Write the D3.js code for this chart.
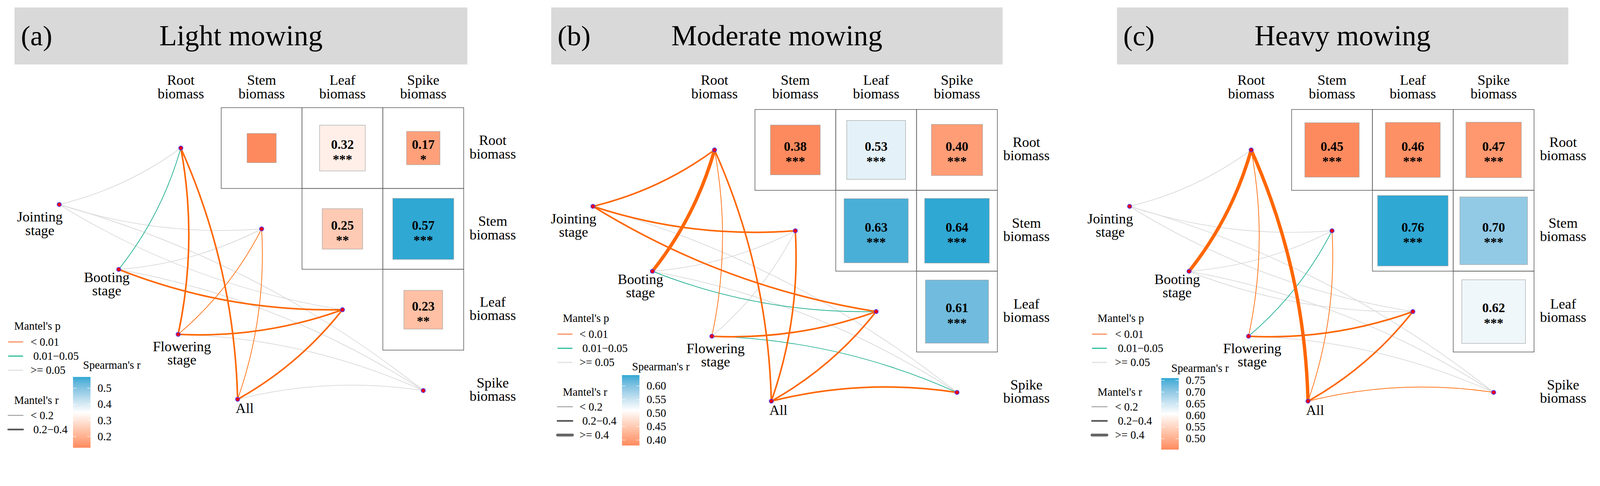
<!DOCTYPE html>
<html>
<head>
<meta charset="utf-8">
<script src="https://cdn.jsdelivr.net/npm/d3@7"></script>
<style>
  html, body { margin: 0; padding: 0; background: #ffffff; overflow: hidden; }
  svg { display: block; width: 100vw; height: auto; }
  svg text { font-family: "Liberation Serif", "Times New Roman", "DejaVu Serif", serif; fill: #000; }
</style>
</head>
<body>
<svg id="chart" viewBox="0 0 4296 1244" preserveAspectRatio="xMinYMin meet" font-family="Liberation Serif, Times New Roman, serif"></svg>
<script>
// ---------------- DATA ----------------
const panelTags = ["(a)", "(b)", "(c)"];
const panelTitles = ["Light mowing", "Moderate mowing", "Heavy mowing"];
const envVars = ["Root biomass", "Stem biomass", "Leaf biomass", "Spike biomass"];
const stages = ["Jointing stage", "Booting stage", "Flowering stage", "All"];

// upper-triangle pairs (row, column) of the Spearman matrix
const pairRows = ["Root biomass", "Root biomass", "Root biomass", "Stem biomass", "Stem biomass", "Leaf biomass"];
const pairCols = ["Stem biomass", "Leaf biomass", "Spike biomass", "Leaf biomass", "Spike biomass", "Spike biomass"];

const spearmanLight    = [0.13, 0.32, 0.17, 0.25, 0.57, 0.23];
const signifLight      = ["", "***", "*", "**", "***", "**"];
const spearmanModerate = [0.38, 0.53, 0.40, 0.63, 0.64, 0.61];
const signifModerate   = ["***", "***", "***", "***", "***", "***"];
const spearmanHeavy    = [0.453, 0.46, 0.47, 0.76, 0.70, 0.62];
const signifHeavy      = ["***", "***", "***", "***", "***", "***"];

// Mantel test classes, rows = stages, columns = envVars
// p class: 0 "< 0.01", 1 "0.01-0.05", 2 ">= 0.05"
// r class: 0 "< 0.2", 1 "0.2-0.4", 2 ">= 0.4"
const mantelPLight = [[2, 2, 2, 2], [1, 2, 0, 2], [0, 0, 0, 2], [0, 0, 0, 2]];
const mantelRLight = [[0, 0, 0, 0], [0, 0, 1, 0], [1, 0, 1, 0], [1, 0, 1, 0]];
const mantelPModerate = [[0, 0, 0, 2], [0, 2, 1, 2], [0, 2, 0, 1], [0, 0, 0, 0]];
const mantelRModerate = [[1, 1, 1, 0], [2, 0, 0, 0], [0, 0, 1, 0], [1, 1, 1, 1]];
const mantelPHeavy = [[2, 2, 2, 2], [0, 2, 2, 2], [0, 1, 0, 2], [0, 0, 0, 0]];
const mantelRHeavy = [[0, 0, 0, 0], [2, 0, 0, 0], [0, 0, 1, 0], [2, 0, 1, 0]];

const pLabels = ["< 0.01", " 0.01\u22120.05", ">= 0.05"];
const rLabels = ["< 0.2", " 0.2\u22120.4", ">= 0.4"];

// ---------------- STYLE / LAYOUT ----------------
const FONT = "Liberation Serif, Times New Roman, serif";
const cell = 217;
const linkColors = ["#FF6600", "#14AB8B", "#D8D8D8"];
const keyColors = ["#F8915F", "#2DBE9B", "#E2E2E2"];
const linkWidths = [1.8, 4.2, 9];
const rKeyColors = ["#9A9A9A", "#555555", "#666666"];
const rKeyWidths = [2.5, 4.5, 7.5];
const lowCol = "#FD8A5E", highCol = "#2FA8D4";
const curvSign = [1, 1, 1, -1];          // per environmental variable
const stageLabelDx = [-52, -32, 10, 19];
const stageLabelDy = [46, 34, 45, 37];

const layouts = [
  { gx: 377,  gy: 289, box: [39, 20, 1255, 173],   hdx: 0,
    leg: { kx: 22, lx: 82, tx: 38, py: 875, ry: 1075, step: 38 },
    cb: { x: 196, y0: 1012, y1: 1202, ty: 980 } },
  { gx: 1810, gy: 294, box: [1480, 20, 2692, 173], hdx: 0,
    leg: { kx: 1497, lx: 1556, tx: 1511, py: 854, ry: 1052, step: 38 },
    cb: { x: 1670, y0: 1007, y1: 1196, ty: 984 } },
  { gx: 3251, gy: 294, box: [2999, 20, 4211, 173], hdx: 0,
    leg: { kx: 2932, lx: 2994, tx: 2947, py: 854, ry: 1052, step: 38 },
    cb: { x: 3118, y0: 1015, y1: 1207, ty: 988 } }
];

const panels = [
  { tag: panelTags[0], title: panelTitles[0], r: spearmanLight, sig: signifLight, mp: mantelPLight, mr: mantelRLight },
  { tag: panelTags[1], title: panelTitles[1], r: spearmanModerate, sig: signifModerate, mp: mantelPModerate, mr: mantelRModerate },
  { tag: panelTags[2], title: panelTitles[2], r: spearmanHeavy, sig: signifHeavy, mp: mantelPHeavy, mr: mantelRHeavy }
];

const svg = d3.select("#chart");
svg.append("rect").attr("width", 4296).attr("height", 1244).attr("fill", "#fff");
const defs = svg.append("defs");

function txt(sel, s) {
  return sel.append("text").text(s).attr("font-family", FONT);
}

panels.forEach((P, pi) => {
  const L = layouts[pi];
  const g = svg.append("g").attr("font-family", FONT);

  // ---- title strip ----
  g.append("rect")
    .attr("x", L.box[0]).attr("y", L.box[1])
    .attr("width", L.box[2] - L.box[0]).attr("height", L.box[3] - L.box[1])
    .attr("fill", "#D9D9D9");
  txt(g, P.tag)
    .attr("x", L.box[0] + 17).attr("y", L.box[1] + 102)
    .attr("font-size", 76);
  txt(g, P.title)
    .attr("x", (L.box[0] + L.box[2]) / 2).attr("y", L.box[1] + 102)
    .attr("text-anchor", "middle").attr("font-size", 77);

  // ---- scales ----
  const x = d3.scaleBand().domain(envVars).range([L.gx, L.gx + 4 * cell]);
  const y = d3.scaleBand().domain(envVars).range([L.gy, L.gy + 4 * cell]);
  const cx = v => x(v) + x.bandwidth() / 2;
  const cy = v => y(v) + y.bandwidth() / 2;
  const side = d3.scaleSqrt().domain([0, 1]).range([0, x.bandwidth()]);
  const ext = d3.extent(P.r);
  const color = d3.scaleLinear()
    .domain([ext[0], (ext[0] + ext[1]) / 2, ext[1]])
    .range([lowCol, "#ffffff", highCol])
    .interpolate(d3.interpolateLab);
  const sx = d3.scalePoint().domain(stages).range([L.gx - 218, L.gx + 261]);
  const sy = d3.scalePoint().domain(stages).range([L.gy + 260, L.gy + 783]);

  // ---- column headers ----
  envVars.forEach(v => {
    const words = v.split(" ");
    const t = g.append("text").attr("font-family", FONT).attr("text-anchor", "middle").attr("font-size", 38);
    words.forEach((w, k) => t.append("tspan").attr("x", cx(v) + L.hdx).attr("y", 228 + k * 36).text(w));
  });
  // ---- row labels (right) ----
  envVars.forEach(v => {
    const words = v.split(" ");
    const t = g.append("text").attr("font-family", FONT).attr("text-anchor", "middle").attr("font-size", 38);
    words.forEach((w, k) => t.append("tspan").attr("x", L.gx + 4 * cell + 78).attr("y", cy(v) - 8 + k * 36).text(w));
  });

  // ---- matrix cells ----
  const cells = P.r.map((r, k) => ({ row: pairRows[k], col: pairCols[k], r: r, sig: P.sig[k] }));
  g.selectAll(".cellbox").data(cells).enter().append("rect")
    .attr("x", d => x(d.col)).attr("y", d => y(d.row))
    .attr("width", x.bandwidth()).attr("height", y.bandwidth())
    .attr("fill", "none").attr("stroke", "#5a5a5a").attr("stroke-width", 1.6);
  g.selectAll(".sq").data(cells).enter().append("rect")
    .attr("x", d => cx(d.col) - side(Math.abs(d.r)) / 2)
    .attr("y", d => cy(d.row) - side(Math.abs(d.r)) / 2)
    .attr("width", d => side(Math.abs(d.r)))
    .attr("height", d => side(Math.abs(d.r)))
    .attr("fill", d => color(d.r))
    .attr("stroke", "#A0A0A0").attr("stroke-width", 1.2);
  cells.filter(d => d.sig !== "").forEach(d => {
    txt(g, d.r.toFixed(2))
      .attr("x", cx(d.col)).attr("y", cy(d.row) + 2)
      .attr("text-anchor", "middle").attr("font-size", 35).attr("font-weight", "bold");
    txt(g, d.sig)
      .attr("x", cx(d.col)).attr("y", cy(d.row) + 42)
      .attr("text-anchor", "middle").attr("font-size", 35).attr("font-weight", "bold");
  });

  // ---- links ----
  const links = [];
  stages.forEach((s, i) => envVars.forEach((e, j) => {
    links.push({ s: s, e: e, j: j, p: P.mp[i][j], rc: P.mr[i][j] });
  }));
  links.sort((a, b) => b.p - a.p);
  const linkG = g.append("g").attr("fill", "none").attr("stroke-linecap", "round");
  links.forEach(d => {
    const x1 = sx(d.s), y1 = sy(d.s), x2 = cx(d.e), y2 = cy(d.e);
    const dx = x2 - x1, dy = y2 - y1, k = 0.1 * curvSign[d.j];
    const path = d3.path();
    path.moveTo(x1, y1);
    path.quadraticCurveTo((x1 + x2) / 2 - k * dy, (y1 + y2) / 2 + k * dx, x2, y2);
    linkG.append("path").attr("d", path.toString())
      .attr("stroke", linkColors[d.p]).attr("stroke-width", linkWidths[d.rc]);
  });

  // ---- nodes ----
  const nodes = stages.map(s => [sx(s), sy(s)]).concat(envVars.map(v => [cx(v), cy(v)]));
  g.selectAll(".node").data(nodes).enter().append("circle")
    .attr("cx", d => d[0]).attr("cy", d => d[1]).attr("r", 5.5)
    .attr("fill", "#FF0000").attr("stroke", "#5038F0").attr("stroke-width", 2);

  // ---- stage labels ----
  stages.forEach((s, i) => {
    const words = s.split(" ");
    const t = g.append("text").attr("font-family", FONT).attr("text-anchor", "middle").attr("font-size", 38);
    words.forEach((w, k) => t.append("tspan")
      .attr("x", sx(s) + stageLabelDx[i]).attr("y", sy(s) + stageLabelDy[i] + k * 36).text(w));
  });

  // ---- legend: Mantel's p ----
  const lg = L.leg;
  txt(g, "Mantel's p").attr("x", lg.tx).attr("y", lg.py + 10).attr("font-size", 30);
  pLabels.forEach((lab, k) => {
    const yy = lg.py + 43 + k * lg.step;
    g.append("line").attr("x1", lg.kx).attr("x2", lg.kx + 40).attr("y1", yy).attr("y2", yy)
      .attr("stroke", keyColors[k]).attr("stroke-width", 3);
    txt(g, lab).attr("x", lg.lx).attr("y", yy + 10)
      .attr("font-size", 30).style("white-space", "pre");
  });
  // ---- legend: Mantel's r ----
  txt(g, "Mantel's r").attr("x", lg.tx).attr("y", lg.ry + 10).attr("font-size", 30);
  const rPresent = rLabels.filter((lab, k) => P.mr.some(row => row.includes(k)));
  rPresent.forEach((lab, k) => {
    const yy = lg.ry + 40 + k * lg.step;
    g.append("line").attr("x1", lg.kx).attr("x2", lg.kx + 40).attr("y1", yy).attr("y2", yy)
      .attr("stroke", rKeyColors[k]).attr("stroke-width", rKeyWidths[k]).attr("stroke-linecap", "round");
    txt(g, lab).attr("x", lg.lx).attr("y", yy + 10)
      .attr("font-size", 30).style("white-space", "pre");
  });

  // ---- colour bar: Spearman's r ----
  const cb = L.cb;
  const cbY = d3.scaleLinear().domain(ext).range([cb.y1, cb.y0]);
  const gid = "grad" + pi;
  const grad = defs.append("linearGradient").attr("id", gid)
    .attr("x1", 0).attr("y1", 1).attr("x2", 0).attr("y2", 0);
  d3.range(0, 1.0001, 0.05).forEach(t => {
    grad.append("stop").attr("offset", t).attr("stop-color", color(ext[0] + t * (ext[1] - ext[0])));
  });
  txt(g, "Spearman's r").attr("x", cb.x + 27).attr("y", cb.ty + 10).attr("font-size", 30);
  g.append("rect").attr("x", cb.x).attr("y", cb.y0).attr("width", 47).attr("height", cb.y1 - cb.y0)
    .attr("fill", "url(#" + gid + ")");
  const fmt = cbY.tickFormat(5);
  cbY.ticks(5).forEach(t => {
    const yy = cbY(t);
    g.append("line").attr("x1", cb.x).attr("x2", cb.x + 9).attr("y1", yy).attr("y2", yy)
      .attr("stroke", "#fff").attr("stroke-width", 1.5).attr("opacity", 0.8);
    g.append("line").attr("x1", cb.x + 38).attr("x2", cb.x + 47).attr("y1", yy).attr("y2", yy)
      .attr("stroke", "#fff").attr("stroke-width", 1.5).attr("opacity", 0.8);
    txt(g, fmt(t)).attr("x", cb.x + 66).attr("y", yy + 10).attr("font-size", 30);
  });
});
</script>
</body>
</html>
